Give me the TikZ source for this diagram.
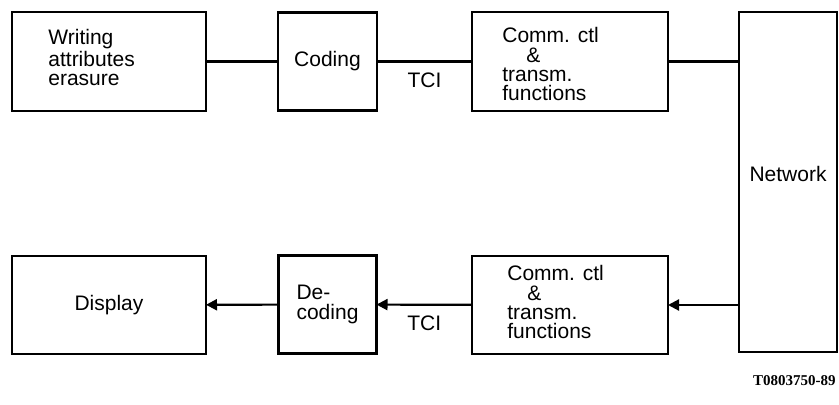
\documentclass[tikz,border=0pt]{standalone}
\usepackage{fontspec}
\setmainfont{Liberation Sans}
\newfontfamily\idfont{Liberation Serif}
\usetikzlibrary{positioning, arrows.meta}

\begin{document}
\begin{tikzpicture}[
    x=0.5pt, y=-0.5pt,
    blockstyle/.style={
        draw, line width=1.1pt, inner sep=0pt, outer sep=0pt,
        font=\fontsize{10.5pt}{9.7pt}\selectfont,
    },
    textstyle/.style={
        inner sep=0pt, align=left,
        font=\fontsize{10.5pt}{9.7pt}\selectfont,
    },
    linkstyle/.style={line width=1.1pt},
    arrowstyle/.style={line width=1.1pt, -{Triangle[length=5.5pt, width=5.5pt]}},
    tcistyle/.style={midway, below=5pt, inner sep=0pt, font=\fontsize{10.5pt}{10pt}\selectfont}
]

\useasboundingbox (0,0) rectangle (839,405);

% Sending side
\node[blockstyle, minimum width=97pt, minimum height=49.5pt] (writing) at (109,61.5) {};
\node[textstyle, anchor=north west] (writingtext) at ([shift={(18pt,-8.5pt)}]writing.north west)
    {Writing\\attributes\\erasure};

\node[blockstyle, minimum width=49.5pt, minimum height=49pt, right=36pt of writing] (coding) {Coding};

\node[blockstyle, minimum width=98pt, minimum height=49.5pt, right=47.5pt of coding] (comm) {};
\node[textstyle, anchor=north west] (commtext) at ([shift={(15pt,-7.5pt)}]comm.north west)
    {Comm. ctl\\\hspace*{12pt}\&\\transm.\\functions};

% Network
\node[blockstyle, minimum width=49pt, minimum height=170pt, text depth=8pt,
      right=35.5pt of comm.north east, anchor=north west] (network) {Network};

% Receiving side
\node[blockstyle, minimum width=97pt, minimum height=49pt, below=72.5pt of writing] (display) {Display};

\node[blockstyle, minimum width=49pt, minimum height=49pt, align=left, below=72.5pt of coding] (decoding) {De-\\coding};

\node[blockstyle, minimum width=98pt, minimum height=49pt, below=72.5pt of comm] (commrx) {};
\node[textstyle, anchor=north west] (commrxtext) at ([shift={(17.5pt,-4.5pt)}]commrx.north west)
    {Comm. ctl\\\hspace*{10pt}\&\\transm.\\functions};

% Links
\draw[linkstyle] (writing) -- (coding);
\draw[linkstyle] (coding) -- (comm) node[tcistyle] (tcitx) {TCI};
\draw[linkstyle] (comm.east) -- (comm.east -| network.west);
\draw[arrowstyle] (commrx.east -| network.west) -- (commrx.east);
\draw[arrowstyle] (commrx) -- (decoding) node[tcistyle] (tcirx) {TCI};
\draw[arrowstyle] (decoding) -- (display);

% Figure number
\node[anchor=base east, inner sep=0pt, font=\idfont\bfseries\fontsize{7.5pt}{8pt}\selectfont] (figid) at (836,385) {T0803750-89};

\end{tikzpicture}
\end{document}
